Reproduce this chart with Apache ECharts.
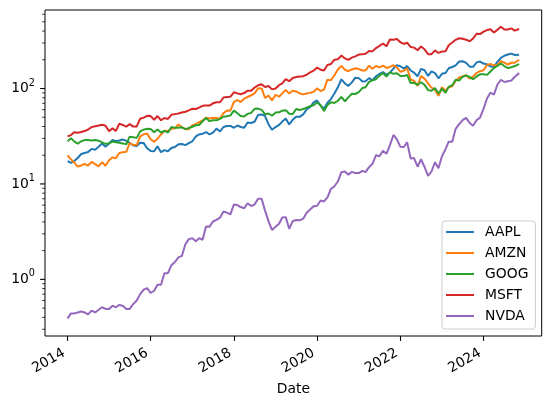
<!DOCTYPE html>
<html>
<head>
<meta charset="utf-8">
<script src="https://cdn.jsdelivr.net/npm/echarts@6/dist/echarts.min.js"></script>
<style>
  html, body { margin: 0; padding: 0; background: #fff; }
  #main { width: 551px; height: 405px; }
</style>
</head>
<body>
<div id="main"></div>
<script>
  // tickers and matplotlib tab10 colours
  var tickers = ['AAPL', 'AMZN', 'GOOG', 'MSFT', 'NVDA'];
  var colors = ['#1f77b4', '#ff7f0e', '#2ca02c', '#d62728', '#9467bd'];
  var tickYears = [2014, 2016, 2018, 2020, 2022, 2024];

  // monthly prices, Jan 2014 .. Nov 2024
  var aapl = [
    17.3, 16.6, 17.4, 18.7, 20.6, 21.1, 21.6, 23.3, 22.8, 24.5, 26.5, 24.6,
    26.5, 29.0, 28.0, 28.5, 29.2, 28.3, 27.0, 25.3, 25.0, 27.0, 26.8, 23.7,
    22.2, 22.0, 24.8, 21.5, 22.6, 22.0, 23.8, 24.4, 26.0, 26.2, 25.5, 26.8,
    28.0, 31.5, 33.0, 33.5, 35.0, 33.0, 34.5, 38.0, 35.5, 39.5, 40.5, 40.5,
    38.8, 41.0, 39.5, 38.8, 44.0, 43.5, 44.8, 52.8, 53.5, 51.5, 42.0, 37.0,
    39.5, 41.5, 45.0, 48.5, 42.0, 47.0, 50.5, 50.5, 53.5, 60.5, 64.0, 71.5,
    75.0, 66.0, 61.5, 71.0, 77.5, 88.5, 103.0, 125.0, 113.0, 106.5, 116.0, 130.0,
    128.5, 118.5, 119.0, 128.5, 122.0, 134.0, 142.0, 148.5, 139.0, 146.5, 162.0, 175.0,
    171.0, 161.5, 171.5, 154.5, 146.5, 134.5, 160.5, 155.5, 135.5, 151.5, 145.0, 128.0,
    142.5, 145.5, 163.0, 168.0, 175.0, 192.0, 193.0, 185.5, 169.5, 169.0, 188.0, 191.5,
    182.5, 179.0, 170.5, 169.0, 190.5, 209.5, 220.5, 227.0, 232.0, 224.5, 226.0
  ];
  var amzn = [
    19.9, 18.1, 16.8, 15.2, 15.6, 16.2, 15.6, 17.0, 16.1, 15.3, 16.9, 15.5,
    17.7, 19.0, 18.6, 21.1, 21.5, 21.7, 26.8, 25.6, 25.6, 31.3, 33.2, 33.8,
    29.4, 27.6, 29.7, 33.0, 36.1, 35.8, 37.9, 38.4, 41.9, 39.5, 37.5, 37.5,
    41.2, 42.3, 44.3, 46.2, 49.5, 48.4, 49.4, 49.0, 48.1, 55.3, 58.8, 58.5,
    72.5, 75.6, 72.4, 78.3, 81.5, 85.0, 88.9, 100.6, 100.2, 79.9, 84.5, 75.1,
    85.9, 82.0, 89.0, 96.3, 88.8, 94.7, 93.3, 88.8, 86.8, 88.8, 90.0, 92.4,
    100.4, 94.2, 97.5, 123.7, 122.1, 137.9, 158.2, 172.5, 157.4, 151.8, 158.4, 162.8,
    160.3, 154.6, 154.7, 173.4, 161.2, 172.0, 166.4, 173.5, 164.3, 168.6, 175.4, 166.7,
    149.6, 153.6, 163.0, 124.3, 120.2, 106.2, 135.0, 126.8, 113.0, 102.4, 96.5, 84.0,
    103.1, 94.2, 103.3, 105.5, 120.6, 130.4, 133.7, 138.0, 127.1, 133.1, 146.1, 151.9,
    155.2, 176.8, 180.4, 175.0, 176.4, 193.3, 187.0, 178.5, 186.3, 186.4, 200.0
  ];
  var goog = [
    28.0, 30.2, 27.9, 26.4, 28.0, 28.8, 28.9, 28.6, 28.9, 28.4, 27.2, 26.3,
    26.7, 27.8, 27.4, 27.0, 26.6, 26.0, 31.3, 30.9, 30.4, 35.5, 37.1, 37.9,
    37.6, 34.8, 37.2, 34.6, 36.0, 34.6, 39.6, 38.7, 38.9, 39.2, 37.5, 38.6,
    39.8, 41.2, 41.5, 45.4, 49.0, 45.5, 46.5, 46.5, 48.0, 50.6, 51.3, 52.3,
    58.6, 55.0, 51.6, 50.9, 54.2, 55.6, 61.2, 61.6, 59.7, 53.8, 54.7, 51.8,
    55.9, 56.3, 58.6, 59.3, 54.4, 54.0, 60.9, 59.5, 61.0, 63.1, 65.3, 66.8,
    71.5, 66.8, 58.1, 67.3, 71.6, 70.7, 74.4, 81.9, 73.5, 80.8, 88.0, 87.6,
    91.6, 101.1, 103.1, 117.5, 122.1, 125.3, 136.5, 145.4, 133.3, 148.0, 142.5, 144.7,
    135.3, 135.1, 139.1, 114.1, 114.6, 109.4, 116.3, 109.2, 96.2, 94.7, 101.4, 88.7,
    99.9, 90.3, 104.0, 108.2, 123.4, 120.9, 133.0, 137.4, 131.7, 125.3, 133.9, 140.9,
    141.0, 139.0, 151.0, 164.0, 173.0, 183.0, 172.0, 164.0, 167.0, 172.0, 180.0
  ];
  var msft = [
    31.5, 32.5, 34.8, 34.4, 35.0, 35.8, 37.2, 39.4, 40.3, 41.0, 41.8, 40.8,
    35.6, 38.4, 35.8, 42.9, 41.5, 39.9, 42.3, 39.9, 40.1, 48.3, 49.5, 51.8,
    51.4, 47.1, 51.5, 46.5, 49.1, 48.0, 53.0, 53.9, 54.7, 56.0, 57.1, 59.1,
    61.4, 61.0, 63.1, 65.9, 66.4, 66.3, 70.0, 71.7, 71.8, 80.4, 81.3, 82.0,
    91.2, 89.0, 87.0, 89.6, 94.9, 94.7, 102.3, 108.3, 110.6, 103.6, 106.1, 98.0,
    100.0, 108.3, 113.1, 125.4, 119.3, 129.1, 131.8, 133.7, 134.7, 139.4, 147.4, 153.9,
    165.9, 157.2, 154.7, 176.5, 180.6, 200.7, 202.5, 221.4, 206.6, 199.3, 211.0, 217.5,
    227.0, 228.0, 231.5, 247.6, 245.0, 265.4, 279.6, 296.6, 277.2, 326.0, 325.0, 330.0,
    305.5, 293.0, 302.0, 272.0, 268.2, 252.0, 275.4, 257.4, 229.3, 229.0, 251.0, 236.0,
    244.0, 246.0, 284.0, 303.0, 324.0, 336.0, 332.0, 325.0, 313.0, 335.0, 375.0, 372.0,
    394.0, 410.0, 417.0, 387.0, 412.0, 444.0, 416.0, 415.0, 427.0, 404.0, 420.0
  ];
  var nvda = [
    0.39, 0.44, 0.44, 0.45, 0.46, 0.45, 0.43, 0.47, 0.45, 0.48, 0.51, 0.49,
    0.49, 0.53, 0.51, 0.54, 0.53, 0.49, 0.49, 0.55, 0.60, 0.70, 0.78, 0.81,
    0.72, 0.76, 0.88, 0.88, 1.16, 1.16, 1.41, 1.52, 1.70, 1.76, 2.33, 2.64,
    2.70, 2.51, 2.70, 2.60, 3.58, 3.57, 4.04, 4.20, 4.43, 5.14, 5.00, 4.80,
    6.10, 6.00, 5.73, 5.57, 6.28, 5.88, 6.08, 6.98, 7.00, 5.25, 4.05, 3.30,
    3.55, 3.83, 4.45, 4.49, 3.39, 4.08, 4.19, 4.16, 4.33, 5.00, 5.40, 5.85,
    5.90, 6.70, 6.55, 7.25, 8.85, 9.45, 10.60, 13.30, 13.50, 12.50, 13.40, 13.00,
    13.00, 13.70, 13.30, 15.00, 16.25, 20.00, 19.50, 22.30, 20.70, 25.50, 32.60, 29.40,
    24.50, 24.35, 27.30, 18.50, 18.65, 15.15, 18.15, 15.05, 12.13, 13.50, 16.90, 14.60,
    19.50, 23.20, 27.75, 27.75, 37.80, 42.30, 46.70, 49.30, 43.50, 40.78, 46.70, 49.50,
    61.50, 79.10, 90.35, 86.40, 109.60, 123.50, 117.00, 119.40, 121.40, 132.70, 145.00
  ];
  var prices = [aapl, amzn, goog, msft, nvda];

  // dates: first trading day, then month starts, last day in the file
  var dates = [];
  for (var i = 0; i < aapl.length; i++) {
    dates.push(Date.UTC(2014, i, 1));
  }
  dates[0] = Date.UTC(2014, 0, 2);
  dates[dates.length - 1] = Date.UTC(2024, 10, 8);

  var t0 = dates[0], t1 = dates[dates.length - 1];
  var xMin = t0 - 0.05 * (t1 - t0);
  var xMax = t1 + 0.05 * (t1 - t0);
  var yMin = 0.255, yMax = 665;

  var font = 'DejaVu Sans';
  var yearTicks = tickYears.map(function (y) { return Date.UTC(y, 0, 1); });

  // y ticks, matplotlib style (major at decades, minor 2..9)
  var yTicks = [];
  [0.1, 1, 10, 100].forEach(function (dec) {
    for (var k = 1; k <= 9; k++) {
      var v = k * dec;
      if (v >= yMin && v <= yMax) yTicks.push([xMin, v, k === 1 ? 4.9 : 2.8, k === 1 ? 1.1 : 0.8]);
    }
  });

  var series = tickers.map(function (name, s) {
    return {
      name: name,
      type: 'line',
      symbol: 'none',
      data: dates.map(function (d, j) { return [d, prices[s][j]]; }),
      lineStyle: { width: 2, color: colors[s] },
      itemStyle: { color: colors[s] }
    };
  });
  series.push({
    type: 'custom',
    silent: true,
    data: yTicks,
    encode: { x: 0, y: 1 },
    renderItem: function (params, api) {
      var p = api.coord([api.value(0), api.value(1)]);
      var len = api.value(2);
      return {
        type: 'line',
        shape: { x1: p[0] - len, y1: p[1], x2: p[0], y2: p[1] },
        style: { stroke: '#000', lineWidth: api.value(3) }
      };
    }
  });

  var myChart = echarts.init(document.getElementById('main'));
  var option = {
    animation: false,
    backgroundColor: '#fff',
    grid: {
      left: 45, top: 10, right: 9.3, bottom: 69,
      show: true, borderColor: '#000', borderWidth: 1
    },
    legend: {
      data: tickers,
      orient: 'vertical',
      left: 442, top: 221,
      padding: [4, 7, 6, 4],
      icon: 'path://M0,0L28,0L28,2L0,2Z',
      itemWidth: 28, itemHeight: 14, itemGap: 7,
      backgroundColor: 'rgba(255,255,255,0.8)',
      borderColor: '#cccccc', borderWidth: 1, borderRadius: 3,
      textStyle: { fontFamily: font, fontSize: 13.9, color: '#000', padding: [0, 0, 0, 6] }
    },
    xAxis: {
      type: 'value',
      min: xMin, max: xMax,
      name: 'Date',
      nameLocation: 'middle',
      nameGap: 45,
      nameTextStyle: { fontFamily: font, fontSize: 13.9, color: '#000' },
      axisLine: { show: false },
      splitLine: { show: false },
      axisTick: {
        show: true, length: 4.9, lineStyle: { color: '#000', width: 1.1 },
        customValues: yearTicks
      },
      axisLabel: {
        customValues: yearTicks,
        rotate: 30,
        margin: 14,
        padding: [0, 4, 0, 0],
        fontFamily: font, fontSize: 13.9, color: '#000',
        formatter: function (v) { return String(new Date(v).getUTCFullYear()); }
      }
    },
    yAxis: {
      type: 'log',
      logBase: 10,
      min: yMin, max: yMax,
      axisLine: { show: false },
      axisTick: { show: false },
      splitLine: { show: false },
      axisLabel: {
        margin: 10,
        color: '#000',
        showMinLabel: false,
        showMaxLabel: false,
        formatter: function (v) {
          var e = Math.log10(v);
          if (Math.abs(e - Math.round(e)) > 1e-6) return '';
          return '{b|10}{s|' + Math.round(e) + '}';
        },
        rich: {
          b: { fontFamily: font, fontSize: 13.9, color: '#000' },
          s: { fontFamily: font, fontSize: 9.7, color: '#000', padding: [0, 0, 11, 0] }
        }
      }
    },
    series: series
  };
  myChart.setOption(option);
</script>
</body>
</html>
